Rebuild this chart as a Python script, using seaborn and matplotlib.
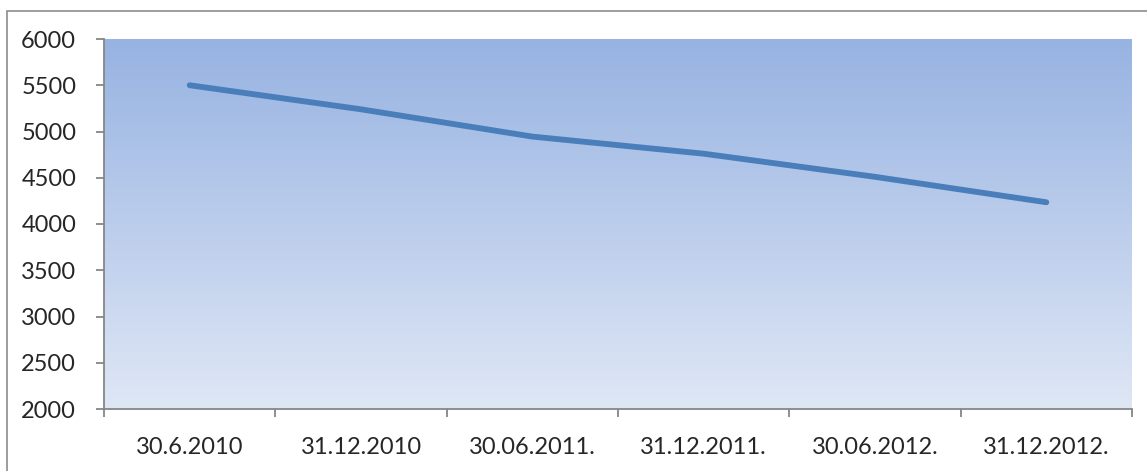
import numpy as np
import pandas as pd
import matplotlib
matplotlib.use("Agg")
import matplotlib.pyplot as plt
import seaborn as sns
from matplotlib.patches import Rectangle

# ---------------------------------------------------------------------------
# Data
# ---------------------------------------------------------------------------
dates = ["30.6.2010", "31.12.2010", "30.06.2011.", "31.12.2011.",
         "30.06.2012.", "31.12.2012."]
values = [5500, 5240, 4945, 4760, 4510, 4235]
y_ticks = [2000, 2500, 3000, 3500, 4000, 4500, 5000, 5500, 6000]

df = pd.DataFrame({"pos": np.arange(len(dates)), "value": values})

sns.set_style("white")
plt.rcParams["font.family"] = ["Lato", "DejaVu Sans"]

fig = plt.figure(figsize=(11.47, 4.71), dpi=100)
ax = fig.add_axes([104 / 1147, 1 - 409 / 471, (1132 - 104) / 1147, (409 - 39) / 471])

# gradient fill of the plot area (darker blue on top, pale at the bottom)
top = np.array([0x97, 0xB3, 0xE2]) / 255
bot = np.array([0xDF, 0xE7, 0xF5]) / 255
t = np.linspace(0, 1, 256)[:, None]
grad = (top * (1 - t) + bot * t)[:, None, :].repeat(2, axis=1)
ax.imshow(grad, extent=[-0.5, 5.5, 2000, 6000], aspect="auto", zorder=0,
          interpolation="bilinear")

sns.lineplot(data=df, x="pos", y="value", ax=ax, color="#4A7EBB",
             linewidth=4.2, solid_capstyle="round", zorder=3)

ax.set_xlim(-0.5, 5.5)
ax.set_ylim(2000, 6000)
ax.set_yticks(y_ticks)
ax.set_yticklabels([str(v) for v in y_ticks])
ax.set_xticks(df["pos"])
ax.set_xticklabels(dates)
ax.set_xticks(np.arange(-0.5, 6.0, 1.0), minor=True)
ax.set_xlabel("")
ax.set_ylabel("")

gray = "#868686"
for side in ["top", "right"]:
    ax.spines[side].set_visible(False)
for side in ["left", "bottom"]:
    ax.spines[side].set_color(gray)
    ax.spines[side].set_linewidth(1.3)

ax.tick_params(axis="y", which="major", direction="out", length=6,
               width=1.3, color=gray, pad=14, labelsize=17, left=True)
ax.tick_params(axis="x", which="major", length=0, pad=20, labelsize=17)
ax.tick_params(axis="x", which="minor", direction="out", length=6,
               width=1.3, color=gray, bottom=True)

# outer chart border (only top and left visible in the crop)
fig.patches.append(Rectangle((7 / 1147, -0.1), 1.2, 1 - 11 / 471 + 0.1,
                             transform=fig.transFigure, fill=False,
                             edgecolor="#8C8C8C", linewidth=1.2))

fig.savefig("out.png", dpi=100)
